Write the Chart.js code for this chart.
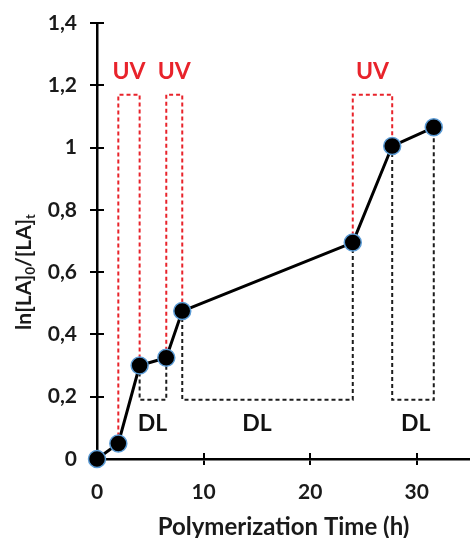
<!DOCTYPE html>
<html><head><meta charset="utf-8">
<script src="https://cdn.jsdelivr.net/npm/chart.js@4/dist/chart.umd.min.js"></script>
<style>html,body{margin:0;padding:0;background:#fff}#wrap{width:470px;height:538px}</style>
</head><body><div id="wrap"><canvas id="c" width="470" height="538"></canvas></div>
<script>
// Data
const times = [0, 2, 4, 6.5, 8, 24, 27.7, 31.6];
const conversion = [0, 0.05, 0.30, 0.325, 0.475, 0.695, 1.005, 1.065];
const uvIntervals = [[1, 2], [3, 4], [5, 6]];   // point index pairs (UV on)
const dlIntervals = [[2, 3], [4, 5], [6, 7]];   // point index pairs (dark)
const uvTop = 1.17;
const dlBottom = 0.19;
const uvLabelY = 1.245;
const dlLabelX = [5.2, 15, 29.9];
const dlLabelY = 0.115;
const xTicks = [0, 10, 20, 30];
const yTicks = [0, 0.2, 0.4, 0.6, 0.8, 1.0, 1.2, 1.4];

const RED = '#e8232b';
const FONT = 'Lato, "Open Sans", sans-serif';

function boxData(pair, level) {
  const [a, b] = pair;
  return [
    {x: times[a], y: conversion[a]}, {x: times[a], y: level},
    {x: times[b], y: level}, {x: times[b], y: conversion[b]}
  ];
}
const datasets = [{
  data: times.map((t, i) => ({x: t, y: conversion[i]})),
  borderColor: '#000', borderWidth: 3,
  pointRadius: 8.5, pointBackgroundColor: '#000',
  pointBorderColor: '#5b9bd5', pointBorderWidth: 1.5,
  clip: false, order: 0
}];
uvIntervals.forEach(p => datasets.push({
  data: boxData(p, uvTop), borderColor: RED, borderWidth: 2,
  borderDash: [4, 3], pointRadius: 0, order: 1
}));
dlIntervals.forEach(p => datasets.push({
  data: boxData(p, dlBottom), borderColor: '#1c1c1c', borderWidth: 2,
  borderDash: [4, 3], pointRadius: 0, order: 1
}));

const annot = {
  id: 'annot',
  beforeDatasetsDraw(chart) {
    const ctx = chart.ctx, xs = chart.scales.x, ys = chart.scales.y;
    ctx.save();
    ctx.strokeStyle = '#000'; ctx.lineWidth = 2;
    yTicks.forEach(v => {
      const py = Math.round(ys.getPixelForValue(v));
      ctx.beginPath(); ctx.moveTo(xs.left, py); ctx.lineTo(xs.left + 7, py); ctx.stroke();
    });
    xTicks.forEach(v => {
      if (v === 0) return;
      const px = Math.round(xs.getPixelForValue(v));
      ctx.beginPath(); ctx.moveTo(px, ys.bottom); ctx.lineTo(px, ys.bottom - 6); ctx.stroke();
    });
    ctx.restore();
  },
  afterDraw(chart) {
    const ctx = chart.ctx, xs = chart.scales.x, ys = chart.scales.y;
    ctx.save();
    ctx.textAlign = 'center'; ctx.textBaseline = 'middle';
    ctx.font = 'bold 23px ' + FONT;
    ctx.fillStyle = RED;
    uvIntervals.forEach(([a, b]) => {
      ctx.fillText('UV', xs.getPixelForValue((times[a] + times[b]) / 2), ys.getPixelForValue(uvLabelY));
    });
    ctx.fillStyle = '#111';
    ctx.font = 'bold 23px ' + FONT;
    dlLabelX.forEach(x => ctx.fillText('DL', xs.getPixelForValue(x), ys.getPixelForValue(dlLabelY)));
    // y-axis title with subscripts
    ctx.translate(24, 272); ctx.rotate(-Math.PI / 2);
    const parts = [['ln[LA]', 0], ['0', 1], ['/[LA]', 0], ['t', 1]];
    const big = 'bold 21px ' + FONT, small = 'bold 13px ' + FONT;
    let w = 0;
    parts.forEach(([s, sub]) => { ctx.font = sub ? small : big; w += ctx.measureText(s).width; });
    let x = -w / 2;
    ctx.textAlign = 'left'; ctx.textBaseline = 'alphabetic'; ctx.fillStyle = '#1a1a1a';
    parts.forEach(([s, sub]) => {
      ctx.font = sub ? small : big;
      ctx.fillText(s, x, sub ? 11 : 7);
      x += ctx.measureText(s).width;
    });
    ctx.restore();
  }
};

new Chart(document.getElementById('c'), {
  type: 'line',
  data: {datasets},
  options: {
    responsive: false, animation: false,
    layout: {autoPadding: false, padding: {top: 23, right: 0, left: 0, bottom: 0}},
    plugins: {legend: {display: false}, tooltip: {enabled: false}},
    scales: {
      x: {
        type: 'linear', min: 0, max: 35,
        afterBuildTicks: s => { s.ticks = xTicks.map(v => ({value: v})); },
        grid: {drawOnChartArea: false, tickLength: 6, color: '#000', lineWidth: 2},
        border: {color: '#000', width: 2.5},
        ticks: {color: '#1a1a1a', font: {family: FONT, size: 21, weight: 'bold'}, padding: 15, maxRotation: 0},
        title: {display: true, text: 'Polymerization Time (h)', color: '#1a1a1a',
                font: {family: FONT, size: 24, weight: 'bold'}, padding: {top: 4, bottom: -4}},
        afterFit: s => { s.height = 79; s.paddingLeft = 0; s.paddingRight = 0; }
      },
      y: {
        type: 'linear', min: 0, max: 1.4,
        afterBuildTicks: s => { s.ticks = yTicks.map(v => ({value: v})); },
        grid: {drawOnChartArea: false, tickLength: 7, color: '#000', lineWidth: 2},
        border: {color: '#000', width: 2.5},
        ticks: {color: '#1a1a1a', font: {family: FONT, size: 21, weight: 'bold'}, padding: 13,
                callback: v => (Math.abs(v) < 1e-9 ? '0' : Math.abs(v - 1) < 1e-9 ? '1' : v.toFixed(1).replace('.', ','))},
        afterFit: s => { s.width = 97; s.paddingTop = 0; s.paddingBottom = 0; }
      }
    }
  },
  plugins: [annot]
});
</script>
</body></html>
